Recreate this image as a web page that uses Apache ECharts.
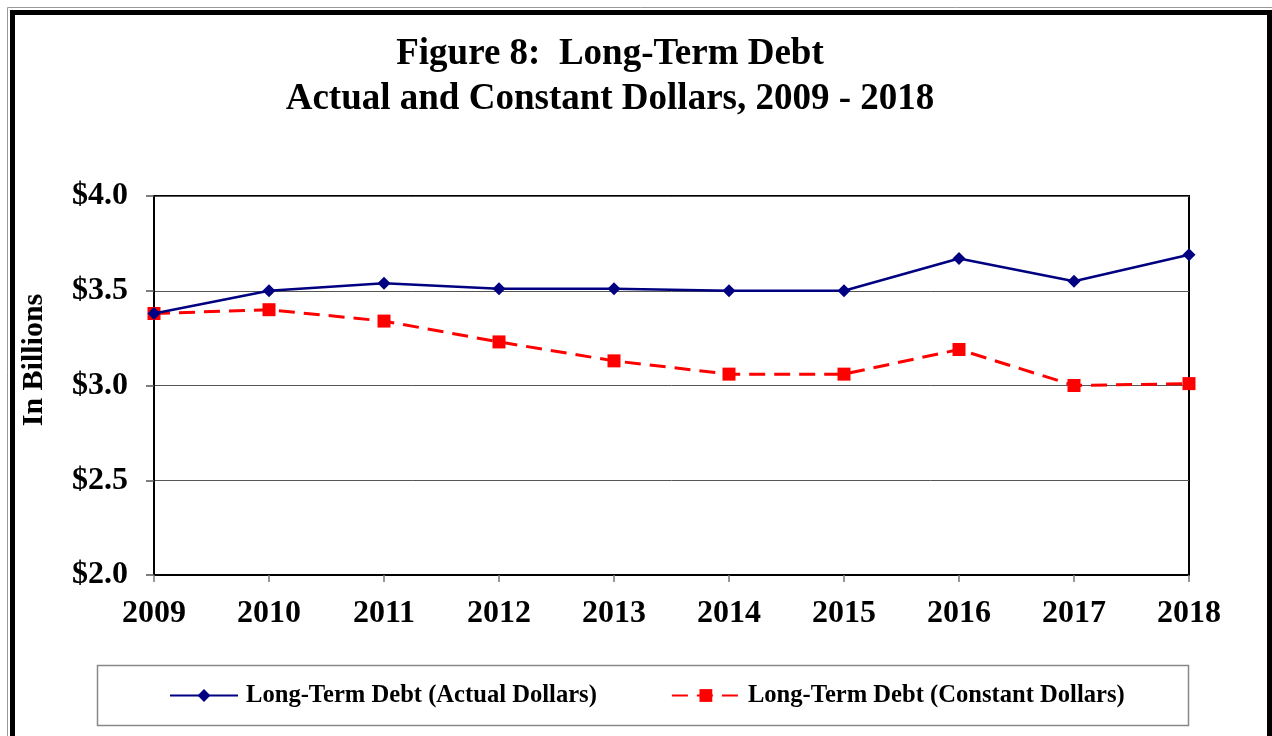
<!DOCTYPE html>
<html><head><meta charset="utf-8">
<script src="https://cdn.jsdelivr.net/npm/echarts@6/dist/echarts.min.js"></script>
<style>html,body{margin:0;padding:0;background:#fff}#c{width:1272px;height:736px}</style>
</head><body><div id="c"></div>
<script>
const years = ['2009','2010','2011','2012','2013','2014','2015','2016','2017','2018'];
const actualDollars = [3.38, 3.50, 3.54, 3.51, 3.51, 3.50, 3.50, 3.67, 3.55, 3.69];
const constantDollars = [3.38, 3.40, 3.34, 3.23, 3.13, 3.06, 3.06, 3.19, 3.00, 3.01];
const seriesNames = ['Long-Term Debt (Actual Dollars)', 'Long-Term Debt (Constant Dollars)'];
const titleLines = ['Figure 8:  Long-Term Debt', 'Actual and Constant Dollars, 2009 - 2018'];
const yAxisName = 'In Billions';

const FONT = '"Liberation Serif","Times New Roman",serif';
const chart = echarts.init(document.getElementById('c'));
chart.setOption({
  animation: false,
  backgroundColor: '#fff',
  title: {
    text: titleLines.join('\n'),
    left: 605, top: 27, textAlign: 'center',
    textStyle: { fontFamily: FONT, fontWeight: 'bold', fontSize: 37, lineHeight: 45, color: '#000' }
  },
  grid: { left: 154, right: 83, top: 196, bottom: 161, show: true, borderColor: '#000', borderWidth: 2, containLabel: false },
  xAxis: {
    type: 'category', data: years, boundaryGap: false,
    axisLine: { lineStyle: { color: '#000', width: 2 } },
    axisTick: { show: true, length: 7, lineStyle: { color: '#777', width: 1.5 } },
    axisLabel: { fontFamily: FONT, fontWeight: 'bold', fontSize: 32, color: '#000', margin: 23 },
    splitLine: { show: false }
  },
  yAxis: {
    type: 'value', min: 2, max: 4, interval: 0.5,
    axisLine: { show: true, lineStyle: { color: '#000', width: 2 } },
    axisTick: { show: true, length: 8, lineStyle: { color: '#555', width: 1.5 } },
    axisLabel: { fontFamily: FONT, fontWeight: 'bold', fontSize: 32, color: '#000', margin: 26,
      formatter: v => '$' + v.toFixed(1) },
    splitLine: { show: true, lineStyle: { color: '#555', width: 1 } }
  },
  legend: {
    data: seriesNames, left: 164, top: 678, itemGap: 74, itemWidth: 68, itemHeight: 16,
    textStyle: { fontFamily: FONT, fontWeight: 'bold', fontSize: 24.6, color: '#000', padding: [0, 0, 0, 3] }
  },
  graphic: [
    { type: 'text', x: 34, y: 360, rotation: Math.PI / 2,
      style: { text: yAxisName, fontFamily: FONT, fontWeight: 'bold', fontSize: 30, fill: '#000', align: 'center', verticalAlign: 'middle' } },
    { type: 'rect', shape: { x: 97.5, y: 665.5, width: 1091, height: 60 }, style: { fill: 'none', stroke: '#888', lineWidth: 1.5 }, z: -1 },
    { type: 'rect', shape: { x: 7.5, y: 7.5, width: 1280, height: 800 }, style: { fill: 'none', stroke: '#999', lineWidth: 1 }, silent: true },
    { type: 'rect', shape: { x: 12.5, y: 12.5, width: 1257, height: 800 }, style: { fill: 'none', stroke: '#000', lineWidth: 5 }, silent: true }
  ],
  series: [
    { name: seriesNames[0], type: 'line', data: actualDollars, symbol: 'diamond', symbolSize: 13,
      lineStyle: { color: '#000080', width: 2.5 }, itemStyle: { color: '#000080' }, z: 3 },
    { name: seriesNames[1], type: 'line', data: constantDollars, symbol: 'rect', symbolSize: 13,
      lineStyle: { color: '#ff0000', width: 3, type: [16, 9] }, itemStyle: { color: '#ff0000' }, z: 2 }
  ]
});
</script></body></html>
